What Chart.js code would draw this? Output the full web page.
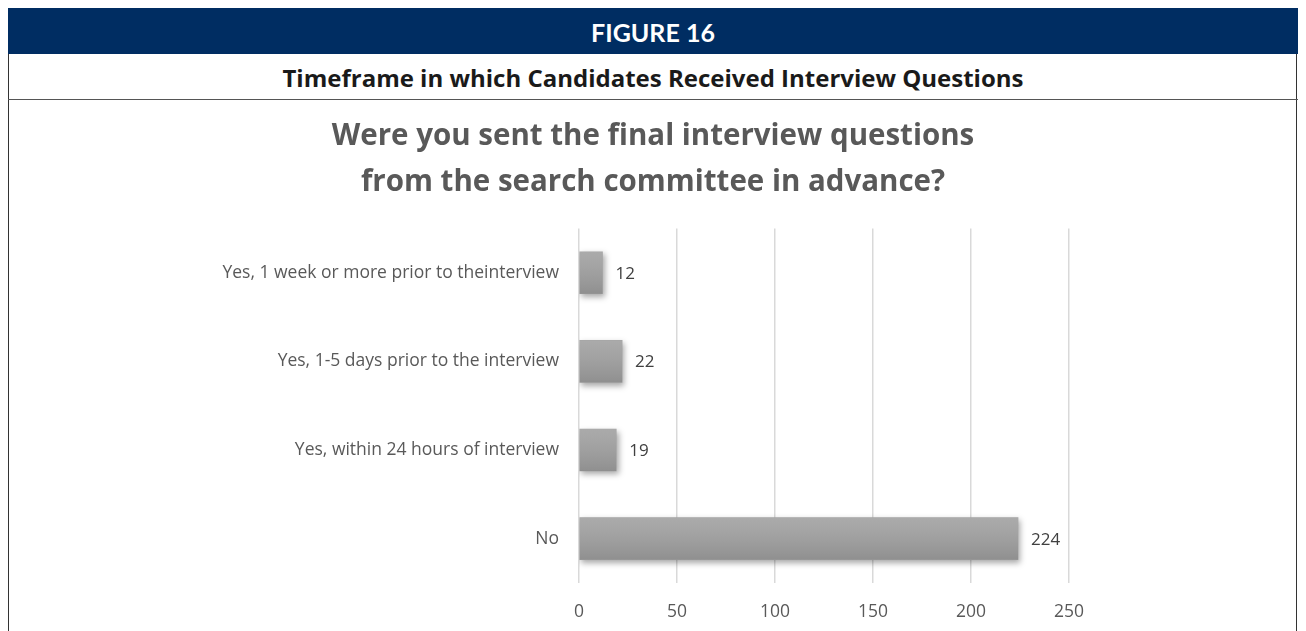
<!DOCTYPE html>
<html>
<head>
<meta charset="utf-8">
<script src="https://cdn.jsdelivr.net/npm/chart.js@4.4.1/dist/chart.umd.min.js"></script>
<style>
  html, body { margin: 0; padding: 0; background: #fff; }
  body { width: 1306px; height: 631px; position: relative; overflow: hidden; font-family: Lato, "Open Sans", sans-serif; }
  .frame { position: absolute; left: 8px; top: 8px; width: 1289px; height: 640px; border: 1px solid #333; box-sizing: border-box; }
  .band { position: absolute; left: 8px; top: 8px; width: 1290px; height: 46px; background: #002d62;
          color: #fff; font-weight: 700; font-size: 25px; text-align: center; line-height: 48px; }
  .sub { position: absolute; left: 8px; top: 54px; width: 1290px; height: 46px; border-bottom: 1px solid #555; box-sizing: border-box;
         color: #1a1a1a; font-family: "Open Sans", sans-serif; font-weight: 700; font-size: 24px; text-align: center; line-height: 48px; }
  #wrap { position: absolute; left: 9px; top: 100px; width: 1288px; height: 531px; }
</style>
</head>
<body>
<div class="frame"></div>
<div class="band">FIGURE 16</div>
<div class="sub">Timeframe in which Candidates Received Interview Questions</div>
<div id="wrap"><canvas id="chart"></canvas></div>
<script>
  // answers and counts, top to bottom
  var categories = [
    'Yes, 1 week or more prior to theinterview',
    'Yes, 1-5 days prior to the interview',
    'Yes, within 24 hours of interview',
    'No'
  ];
  var counts = [12, 22, 19, 224];
  var xTicks = [0, 50, 100, 150, 200, 250];

  // soft drop shadow under each bar
  var barShadow = {
    id: 'barShadow',
    beforeDatasetDraw: function (chart) {
      var ctx = chart.ctx;
      ctx.save();
      ctx.shadowColor = 'rgba(0,0,0,0.35)';
      ctx.shadowBlur = 6;
      ctx.shadowOffsetX = 2;
      ctx.shadowOffsetY = 3;
    },
    afterDatasetDraw: function (chart) {
      chart.ctx.restore();
    }
  };

  // darker shade toward the bottom edge of each bar, then the value next to it
  var barShade = {
    id: 'barShade',
    afterDatasetsDraw: function (chart) {
      var ctx = chart.ctx;
      var meta = chart.getDatasetMeta(0);
      ctx.save();
      meta.data.forEach(function (bar, i) {
        var top = bar.y - bar.height / 2;
        var g = ctx.createLinearGradient(0, top, 0, top + bar.height);
        g.addColorStop(0, 'rgba(255,255,255,0.08)');
        g.addColorStop(1, 'rgba(0,0,0,0.12)');
        ctx.fillStyle = g;
        ctx.fillRect(bar.base, top, bar.x - bar.base, bar.height);

        ctx.fillStyle = '#404040';
        ctx.font = '17px "Open Sans", sans-serif';
        ctx.textAlign = 'left';
        ctx.textBaseline = 'middle';
        ctx.fillText(String(counts[i]), bar.x + 13, bar.y + 1);
      });
      ctx.restore();
    }
  };

  new Chart(document.getElementById('chart'), {
    type: 'bar',
    data: {
      labels: categories,
      datasets: [{
        data: counts,
        backgroundColor: '#a3a3a3',
        borderWidth: 0,
        barThickness: 42
      }]
    },
    options: {
      indexAxis: 'y',
      responsive: true,
      maintainAspectRatio: false,
      animation: false,
      plugins: {
        legend: { display: false },
        tooltip: { enabled: false },
        title: {
          display: true,
          text: ['Were you sent the final interview questions', 'from the search committee in advance?'],
          color: '#595959',
          font: { family: '"Open Sans", sans-serif', size: 29.5, weight: 'bold', lineHeight: 1.55 },
          padding: { top: 14, bottom: 23 }
        }
      },
      scales: {
        x: {
          min: 0,
          max: 250,
          afterBuildTicks: function (scale) {
            scale.ticks = xTicks.map(function (v) { return { value: v }; });
          },
          afterFit: function (scale) { scale.height = 48; },
          grid: { color: '#d9d9d9', lineWidth: 1.5, drawTicks: false },
          border: { display: false },
          ticks: { color: '#595959', padding: 19, font: { family: '"Open Sans", sans-serif', size: 17.5 } }
        },
        y: {
          afterFit: function (scale) { scale.width = 570; },
          grid: { display: false, drawTicks: false },
          border: { display: false },
          ticks: { color: '#595959', padding: 20, font: { family: '"Open Sans", sans-serif', size: 17.5 } }
        },
        // empty right-hand margin so the title stays centred on the whole figure
        yRight: {
          type: 'linear',
          position: 'right',
          afterFit: function (scale) { scale.width = 228; },
          grid: { display: false, drawTicks: false },
          border: { display: false },
          ticks: { display: false }
        }
      }
    },
    plugins: [barShadow, barShade]
  });
</script>
</body>
</html>
